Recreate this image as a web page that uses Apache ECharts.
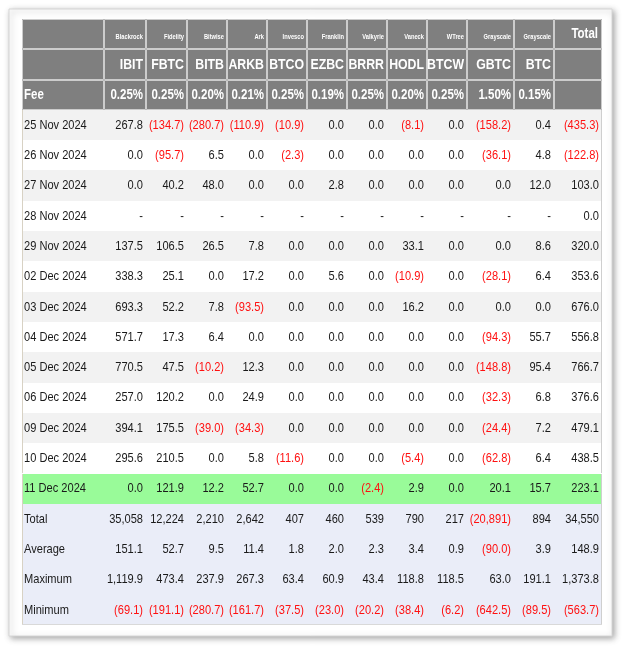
<!DOCTYPE html>
<html>
<head>
<meta charset="utf-8">
<script src="https://cdn.jsdelivr.net/npm/echarts@6/dist/echarts.min.js"></script>
<style>
html,body{margin:0;padding:0;background:#fff;}
#chart{width:622px;height:646px;}
</style>
</head>
<body>
<div id="chart"></div>
<script>
// ---------- data ----------
const issuers = ['Blackrock','Fidelity','Bitwise','Ark','Invesco','Franklin','Valkyrie','Vaneck','WTree','Grayscale','Grayscale'];
const tickers = ['IBIT','FBTC','BITB','ARKB','BTCO','EZBC','BRRR','HODL','BTCW','GBTC','BTC'];
const fees = ['0.25%','0.25%','0.20%','0.21%','0.25%','0.19%','0.25%','0.20%','0.25%','1.50%','0.15%'];
const dates = ['25 Nov 2024','26 Nov 2024','27 Nov 2024','28 Nov 2024','29 Nov 2024','02 Dec 2024','03 Dec 2024','04 Dec 2024','05 Dec 2024','06 Dec 2024','09 Dec 2024','10 Dec 2024','11 Dec 2024'];
// each row: 11 funds + Total
const nov25 = [267.8,-134.7,-280.7,-110.9,-10.9,0.0,0.0,-8.1,0.0,-158.2,0.4,-435.3];
const nov26 = [0.0,-95.7,6.5,0.0,-2.3,0.0,0.0,0.0,0.0,-36.1,4.8,-122.8];
const nov27 = [0.0,40.2,48.0,0.0,0.0,2.8,0.0,0.0,0.0,0.0,12.0,103.0];
const nov28 = [null,null,null,null,null,null,null,null,null,null,null,0.0];
const nov29 = [137.5,106.5,26.5,7.8,0.0,0.0,0.0,33.1,0.0,0.0,8.6,320.0];
const dec02 = [338.3,25.1,0.0,17.2,0.0,5.6,0.0,-10.9,0.0,-28.1,6.4,353.6];
const dec03 = [693.3,52.2,7.8,-93.5,0.0,0.0,0.0,16.2,0.0,0.0,0.0,676.0];
const dec04 = [571.7,17.3,6.4,0.0,0.0,0.0,0.0,0.0,0.0,-94.3,55.7,556.8];
const dec05 = [770.5,47.5,-10.2,12.3,0.0,0.0,0.0,0.0,0.0,-148.8,95.4,766.7];
const dec06 = [257.0,120.2,0.0,24.9,0.0,0.0,0.0,0.0,0.0,-32.3,6.8,376.6];
const dec09 = [394.1,175.5,-39.0,-34.3,0.0,0.0,0.0,0.0,0.0,-24.4,7.2,479.1];
const dec10 = [295.6,210.5,0.0,5.8,-11.6,0.0,0.0,-5.4,0.0,-62.8,6.4,438.5];
const dec11 = [0.0,121.9,12.2,52.7,0.0,0.0,-2.4,2.9,0.0,20.1,15.7,223.1];
const summaryLabels = ['Total','Average','Maximum','Minimum'];
const totalRow = [35058,12224,2210,2642,407,460,539,790,217,-20891,894,34550];
const averageRow = [151.1,52.7,9.5,11.4,1.8,2.0,2.3,3.4,0.9,-90.0,3.9,148.9];
const maximumRow = [1119.9,473.4,237.9,267.3,63.4,60.9,43.4,118.8,118.5,63.0,191.1,1373.8];
const minimumRow = [-69.1,-191.1,-280.7,-161.7,-37.5,-23.0,-20.2,-38.4,-6.2,-642.5,-89.5,-563.7];

const flowRows = [nov25,nov26,nov27,nov28,nov29,dec02,dec03,dec04,dec05,dec06,dec09,dec10,dec11];
const summaryRows = [totalRow,averageRow,maximumRow,minimumRow];

// ---------- layout ----------
const colEdges = [0,82,124,165,205,245,285,325,365,405,445,492,532,580];
const FONT = "'Liberation Sans',Arial,sans-serif";
const SQUEEZE = 0.82;
const C = {
  header:'#7f7f7f', headerLine:'#cccccc', odd:'#f2f2f2', even:'#ffffff',
  highlight:'#99fb99', summary:'#eaedf8', text:'#1a1a1a', neg:'#ff1010'
};

function fmt(v, dec){
  if (v === null || v === undefined) return '-';
  const s = Math.abs(v).toLocaleString('en-US',{minimumFractionDigits:dec,maximumFractionDigits:dec});
  return v < 0 ? '(' + s + ')' : s;
}

// rows 0..2 header, 3..15 dates, 16..19 summary
const nRows = 3 + dates.length + summaryLabels.length;
const rowKeys = [];
for (let r = 0; r < nRows; r++) rowKeys.push('r' + r);
const cells = [];
for (let r = 0; r < nRows; r++) for (let c = 0; c < colEdges.length - 1; c++) cells.push([c, r]);

function cellInfo(c, r){
  const lastFund = tickers.length;
  if (r === 0) {
    if (c === 0) return {text:''};
    if (c <= lastFund) return {text:issuers[c-1], font:'bold 7px '+FONT, fill:'#fff', dy:3};
    return {text:'Total', font:'bold 14px '+FONT, fill:'#fff', pad:4};
  }
  if (r === 1) {
    if (c === 0 || c > lastFund) return {text:''};
    return {text:tickers[c-1], font:'bold 15px '+FONT, fill:'#fff'};
  }
  if (r === 2) {
    if (c === 0) return {text:'Fee', font:'bold 14px '+FONT, fill:'#fff', left:true};
    if (c <= lastFund) return {text:fees[c-1], font:'bold 14px '+FONT, fill:'#fff'};
    return {text:''};
  }
  const di = r - 3;
  if (di < dates.length) {
    if (c === 0) return {text:dates[di], font:'13.5px '+FONT, fill:C.text, left:true};
    const v = flowRows[di][c-1];
    return {text:fmt(v,1), font:'13.5px '+FONT, fill:(v!==null && v<0)?C.neg:C.text};
  }
  const si = di - dates.length;
  if (c === 0) return {text:summaryLabels[si], font:'13.5px '+FONT, fill:C.text, left:true};
  const v = summaryRows[si][c-1];
  return {text:fmt(v, si === 0 ? 0 : 1), font:'13.5px '+FONT, fill:v<0?C.neg:C.text};
}

function rowFill(r){
  if (r < 3) return C.header;
  const di = r - 3;
  if (di === dates.length - 1) return C.highlight;
  if (di < dates.length) return di % 2 === 0 ? C.odd : C.even;
  return C.summary;
}

const chart = echarts.init(document.getElementById('chart'), null, {renderer:'canvas'});
chart.setOption({
  animation:false,
  backgroundColor:'#ffffff',
  graphic:[{
    type:'rect', z:-10, silent:true,
    shape:{x:9, y:9, width:603, height:627},
    style:{fill:'#ffffff', stroke:'#d6d6d6', lineWidth:1, shadowBlur:6, shadowOffsetX:2, shadowOffsetY:2, shadowColor:'rgba(0,0,0,0.35)'}
  }],
  grid:{left:22, top:19, width:580, height:606},
  xAxis:{type:'value', min:0, max:580, show:false},
  yAxis:{type:'category', data:rowKeys, inverse:true, show:false},
  series:[{
    type:'custom',
    coordinateSystem:'cartesian2d',
    data:cells,
    renderItem:function(params, api){
      const c = api.value(0), r = api.value(1);
      const p0 = api.coord([colEdges[c], r]);
      const p1 = api.coord([colEdges[c+1], r]);
      const h = api.size([0,1])[1];
      const x0 = Math.round(p0[0]), x1 = Math.round(p1[0]);
      const y0 = Math.round(p0[1] - h/2), y1 = Math.round(p0[1] + h/2);
      const yc = p0[1];
      const children = [];
      const isHeader = r < 3;
      children.push({type:'rect', shape:{x:x0, y:y0, width:x1-x0, height:y1-y0}, style:{fill:rowFill(r)}});
      if (isHeader) {
        children.push({type:'rect', shape:{x:x0+0.5, y:y0+0.5, width:x1-x0-1, height:y1-y0-1},
          style:{fill:null, stroke:C.headerLine, lineWidth:1}});
      } else {
        if (c === 0) children.push({type:'line', shape:{x1:x0+0.5,y1:y0,x2:x0+0.5,y2:y1}, style:{stroke:'#d8d2c4', lineWidth:1}});
        if (c === colEdges.length - 2) children.push({type:'line', shape:{x1:x1-0.5,y1:y0,x2:x1-0.5,y2:y1}, style:{stroke:'#cfcfcf', lineWidth:1}});
        if (r === nRows - 1) children.push({type:'line', shape:{x1:x0,y1:y1-0.5,x2:x1,y2:y1-0.5}, style:{stroke:'#d9d9d9', lineWidth:1}});
      }
      const info = cellInfo(c, r);
      if (info.text) {
        children.push({
          type:'text',
          x: info.left ? x0 + 2 : x1 - (info.pad || 3),
          y: yc + (info.dy || 0),
          scaleX: SQUEEZE,
          style:{
            text:info.text, x:0, y:0,
            align: info.left ? 'left' : 'right',
            verticalAlign:'middle',
            font: info.font,
            fill: info.fill
          }
        });
      }
      return {type:'group', children:children};
    }
  }]
});
</script>
</body>
</html>
